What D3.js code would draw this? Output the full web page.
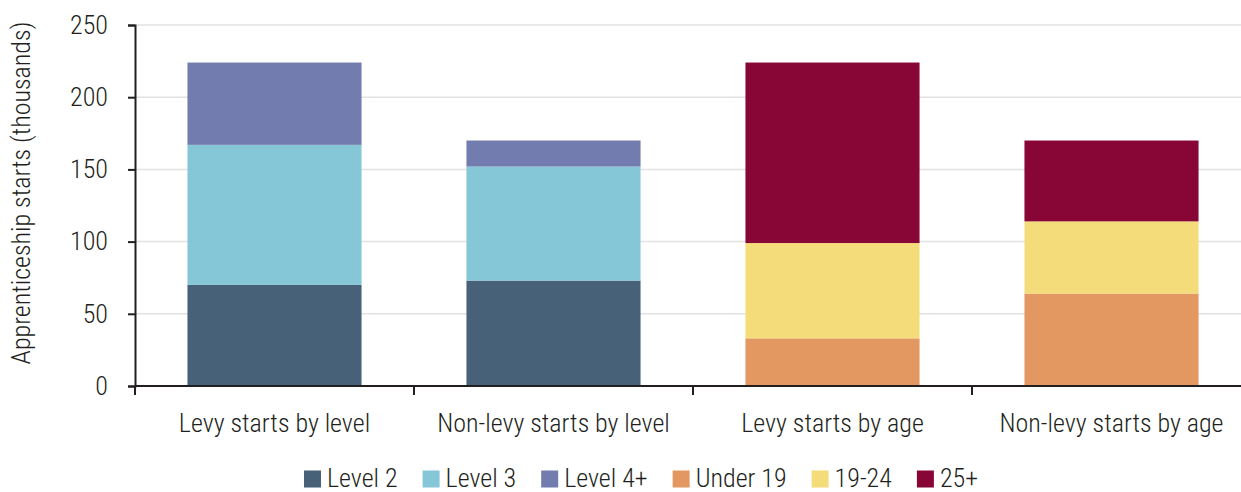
<!DOCTYPE html>
<html><head><meta charset="utf-8">
<script src="https://cdn.jsdelivr.net/npm/d3@7"></script>
<style>
body{margin:0;background:#fff;}
svg text{font-family:"Roboto Condensed","Liberation Sans Narrow","DejaVu Sans Condensed","Roboto",sans-serif;font-weight:300;fill:#231f20;}
</style></head>
<body><svg id="c" width="1241" height="492"></svg>
<script>
const categories = ["Levy starts by level","Non-levy starts by level","Levy starts by age","Non-levy starts by age"];
const seriesNames = ["Level 2","Level 3","Level 4+","Under 19","19-24","25+"];
const seriesColors = ["#476178","#85c7d7","#727caf","#e39862","#f5dc7b","#880636"];
const level2 = [70, 73, 0, 0];
const level3 = [97, 79, 0, 0];
const level4 = [57, 18, 0, 0];
const under19 = [0, 0, 33, 64];
const age1924 = [0, 0, 66, 50];
const age25 = [0, 0, 125, 56];
const yTicks = [0,50,100,150,200,250];
const yLabel = "Apprenticeship starts (thousands)";

const seriesValues = [level2, level3, level4, under19, age1924, age25];
const table = categories.map((c,i)=>{const o={cat:c}; seriesNames.forEach((s,j)=>o[s]=seriesValues[j][i]); return o;});
const stack = d3.stack().keys(seriesNames)(table);

const svg = d3.select("#c");
const pLeft=135, pRight=1251, pTop=25, pBottom=386;
const x = d3.scaleBand().domain(categories).range([pLeft,pRight]).paddingInner(0.376).paddingOuter(0.188);
const y = d3.scaleLinear().domain([0,250]).range([pBottom,pTop]);
const FS = 26;

// gridlines
svg.append("g").selectAll("line").data(yTicks.filter(d=>d>0)).join("line")
  .attr("x1",pLeft).attr("x2",1241).attr("y1",d=>y(d)).attr("y2",d=>y(d))
  .attr("stroke","#e2e2e2").attr("stroke-width",1.5);

// bars
svg.append("g").selectAll("g").data(stack).join("g").attr("fill",(d,i)=>seriesColors[i])
  .selectAll("rect").data(d=>d.filter(p=>p[1]-p[0]>0)).join("rect")
  .attr("x",d=>x(d.data.cat)).attr("width",x.bandwidth())
  .attr("y",d=>y(d[1])).attr("height",d=>y(d[0])-y(d[1]));

// y axis
const ya = svg.append("g").attr("transform",`translate(${pLeft},0)`)
  .call(d3.axisLeft(y).tickValues(yTicks).tickSize(7).tickPadding(20));
ya.select(".domain").attr("stroke","#231f20").attr("stroke-width",2);
ya.selectAll(".tick line").attr("stroke","#231f20").attr("stroke-width",2);
ya.selectAll(".tick text").style("font-size",FS+"px").attr("fill","#231f20");

// x axis
const xa = svg.append("g").attr("transform",`translate(0,${pBottom})`)
  .call(d3.axisBottom(x).tickSize(0).tickPadding(28));
xa.select(".domain").attr("stroke","#231f20").attr("stroke-width",2).attr("d",`M${pLeft},0H${pRight}`);
xa.selectAll(".tick text").style("font-size",FS+"px").attr("fill","#231f20");
const bounds = categories.map(c=>x(c)-x.step()*x.paddingInner()/2).concat([pRight]);
xa.selectAll(".bnd").data(bounds).join("line").attr("class","bnd")
  .attr("x1",d=>d).attr("x2",d=>d).attr("y1",0).attr("y2",9)
  .attr("stroke","#231f20").attr("stroke-width",2);
ya.attr("font-family",null); xa.attr("font-family",null);

// y label
svg.append("text").attr("transform","translate(30,193) rotate(-90)")
  .attr("text-anchor","middle").style("font-size",FS+"px").text(yLabel);

// legend
const lg = svg.append("g");
const items = lg.selectAll("g").data(seriesNames).join("g");
items.append("rect").attr("width",17).attr("height",17).attr("y",-8.5).attr("fill",(d,i)=>seriesColors[i]);
items.append("text").attr("x",23).attr("dy","0.3em").style("font-size",FS+"px").text(d=>d);
let cx=0;
items.each(function(){
  const w = d3.select(this).select("text").node().getComputedTextLength();
  d3.select(this).attr("transform",`translate(${cx},0)`);
  cx += 23+w+25;
});
const total = cx-25;
lg.attr("transform",`translate(${304},479)`);
</script></body></html>
